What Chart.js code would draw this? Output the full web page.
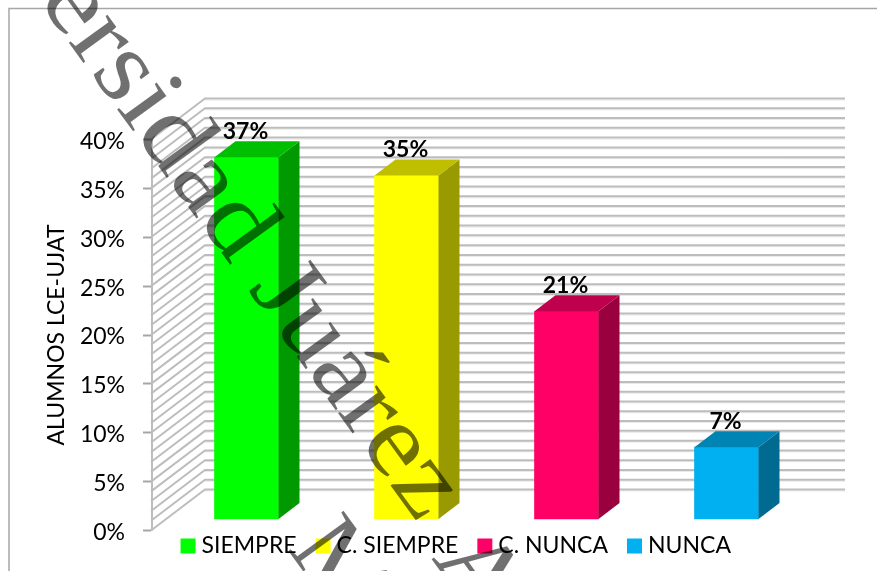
<!DOCTYPE html>
<html><head><meta charset="utf-8">
<style>html,body{margin:0;padding:0;background:#fff;overflow:hidden}canvas{display:block}</style>
<script src="https://cdn.jsdelivr.net/npm/chart.js@4"></script>
</head><body><canvas id="c" width="877" height="571"></canvas>
<script>
const categories = ['SIEMPRE', 'C. SIEMPRE', 'C. NUNCA', 'NUNCA'];
const percentages = [37.05, 35.2, 21.3, 7.4];
const barColors = ['#00ff00', '#ffff00', '#ff0066', '#00b0f0'];
const axisTitle = 'ALUMNOS LCE-UJAT';
const watermarkWords = ['Universidad Juárez', 'Autónoma', 'M'];

const FONT = 'Lato';
function shade(hex, f) {
  const n = parseInt(hex.slice(1), 16);
  return `rgb(${Math.round((n >> 16) * f)},${Math.round(((n >> 8) & 255) * f)},${Math.round((n & 255) * f)})`;
}
const WALL = { dx: 54, dy: -41 };
const BAR = { ox: 15.5, oy: -11, dx: 21, dy: -16 };

const scene = {
  id: 'scene',
  beforeInit(chart) {
    const fit = chart.legend.fit;
    chart.legend.fit = function () { fit.call(this); this.height = 40.5; };
  },
  afterLayout(chart) {
    const l = chart.legend;
    l.left += 63; l.right += 63; l.top = 510; l.bottom = 571;
  },
  beforeDraw(chart) {
    const c = chart.ctx;
    c.save();
    c.strokeStyle = '#a6a6a6'; c.lineWidth = 1.5;
    c.beginPath(); c.moveTo(9, 571); c.lineTo(9, 8.5); c.lineTo(877, 8.5); c.stroke();
    c.restore();
  },
  beforeDatasetsDraw(chart) {
    const c = chart.ctx, y = chart.scales.y, a = chart.chartArea;
    c.save();
    y.ticks.forEach(t => {
      const p = y.getPixelForValue(t.value);
      c.strokeStyle = '#e9e9e9'; c.lineWidth = 1;
      c.beginPath(); c.moveTo(a.left + WALL.dx, p + WALL.dy + 1.5); c.lineTo(a.left + WALL.dx + 640, p + WALL.dy + 1.5); c.stroke();
      c.strokeStyle = '#bdbdbd'; c.lineWidth = 2;
      c.beginPath();
      c.moveTo(a.left, p); c.lineTo(a.left + WALL.dx, p + WALL.dy); c.lineTo(a.left + WALL.dx + 640, p + WALL.dy);
      c.stroke();
    });
    c.strokeStyle = '#bdbdbd'; c.lineWidth = 2;
    c.beginPath(); c.moveTo(a.left + 1, a.top); c.lineTo(a.left + 1, a.bottom); c.stroke();
    c.restore();
  },
  beforeDatasetDraw(chart) {
    chart.ctx.save();
    chart.ctx.translate(BAR.ox, BAR.oy);
  },
  afterDatasetDraw(chart, args) {
    const c = chart.ctx;
    c.restore();
    const meta = chart.getDatasetMeta(args.index);
    c.save();
    meta.data.forEach((el, i) => {
      const col = barColors[i];
      const w = el.width, L = el.x - w / 2 + BAR.ox, R = L + w, T = el.y + BAR.oy, B = el.base + BAR.oy;
      c.fillStyle = shade(col, 0.6);
      c.beginPath();
      c.moveTo(R, T); c.lineTo(R + BAR.dx, T + BAR.dy); c.lineTo(R + BAR.dx, B + BAR.dy); c.lineTo(R, B);
      c.closePath(); c.fill();
      c.fillStyle = shade(col, 0.75);
      c.beginPath();
      c.moveTo(L, T); c.lineTo(L + BAR.dx, T + BAR.dy); c.lineTo(R + BAR.dx, T + BAR.dy); c.lineTo(R, T);
      c.closePath(); c.fill();
      c.fillStyle = '#000';
      c.font = `bold 23px ${FONT}`;
      c.textAlign = 'center'; c.textBaseline = 'alphabetic';
      c.fillText(Math.floor(percentages[i]) + '%', L + w / 2 - 1, T + BAR.dy - 2.5);
    });
    c.restore();
  },
  afterDraw(chart) {
    const c = chart.ctx;
    c.save();
    c.fillStyle = 'rgba(0,0,0,0.56)';
    c.font = '104px "Liberation Serif"';
    c.textBaseline = 'alphabetic';
    c.translate(-96, -184);
    c.rotate(54 * Math.PI / 180);
    c.scale(1.094, 1);
    c.fillText(watermarkWords[0], 0, 0);
    c.fillText(watermarkWords[1], 832, 10);
    c.fillText(watermarkWords[2], 747, 121);
    c.restore();
  }
};

new Chart(document.getElementById('c'), {
  type: 'bar',
  data: {
    labels: categories,
    datasets: [{ data: percentages, backgroundColor: barColors, barThickness: 64, clip: false, borderWidth: 0 }]
  },
  plugins: [scene],
  options: {
    responsive: false, animation: false,
    layout: { autoPadding: false, padding: { left: 0, right: 86, top: 139.5, bottom: 0 } },
    plugins: {
      tooltip: { enabled: false },
      legend: {
        position: 'bottom', align: 'center',
        labels: {
          font: { family: FONT, size: 23 }, color: '#000', boxWidth: 4, boxHeight: 4, padding: 24.5,
          generateLabels: () => categories.map((t, i) => ({
            text: t, fillStyle: barColors[i], strokeStyle: barColors[i], lineWidth: 11, lineJoin: 'miter', index: i
          }))
        }
      }
    },
    scales: {
      x: { display: false, offset: true, grid: { display: false } },
      y: {
        min: 0, max: 40,
        afterFit(s) { s.width = 151; },
        title: { display: true, text: axisTitle, color: '#000', font: { family: FONT, size: 23 }, padding: { top: 43, bottom: 0 } },
        border: { display: false },
        grid: {
          drawOnChartArea: false, tickLength: 8, tickWidth: 2,
          tickColor: ctx => ctx.tick.value % 5 === 0 ? '#a6a6a6' : 'rgba(0,0,0,0)'
        },
        ticks: {
          stepSize: 1, autoSkip: false, padding: 18, color: '#000', labelOffset: 2,
          font: { family: FONT, size: 23 },
          callback: v => v % 5 === 0 ? v + '%' : ''
        }
      }
    }
  }
});
</script></body></html>
